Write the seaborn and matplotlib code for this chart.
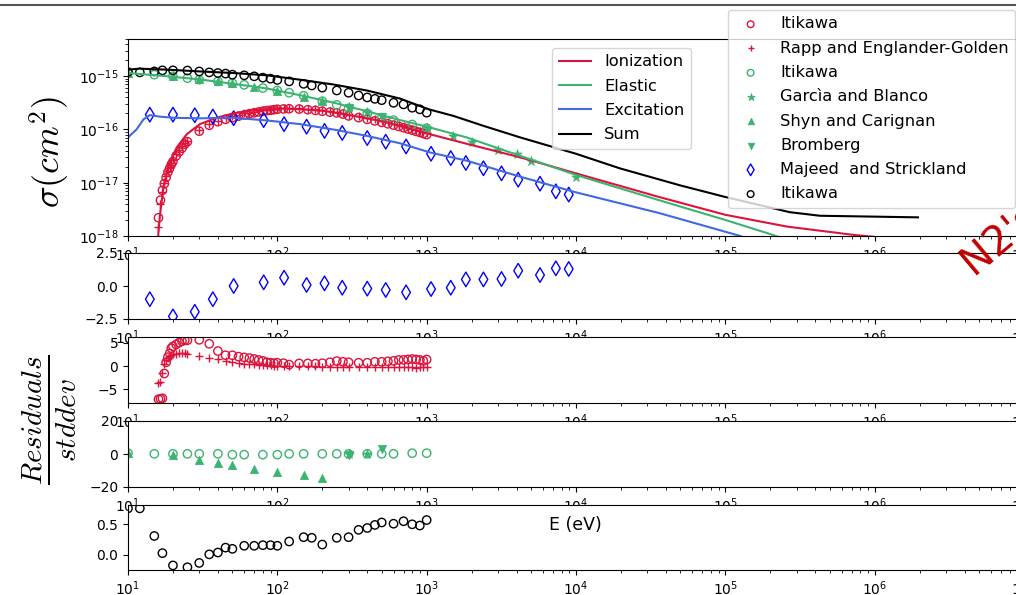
import matplotlib
matplotlib.use("Agg")
import matplotlib.pyplot as plt
from matplotlib.lines import Line2D
import seaborn as sns

# ---- model curves ----
E_ion_fit = [15.8, 15.96, 16.4, 17.3, 18.6, 21.2, 24.7, 30.3, 39.2, 50.7, 69, 99, 142, 203,
             307, 513, 1026, 1850, 4230, 1e4, 3.6e4, 1e5, 2.6e5, 7.2e5, 2e6]
sig_ion_fit = [3e-19, 1.1e-18, 2.6e-18, 8.3e-18, 1.95e-17, 4.6e-17, 8.1e-17, 1.26e-16, 1.66e-16,
               2.0e-16, 2.3e-16, 2.5e-16, 2.4e-16, 2.24e-16, 1.86e-16, 1.41e-16, 8.3e-17,
               5.4e-17, 3.0e-17, 1.5e-17, 5.4e-18, 2.5e-18, 1.5e-18, 1.05e-18, 8e-19]

E_el_fit = [10, 18.2, 30.3, 50.7, 85, 142, 237, 397, 664, 1016, 1850, 4230, 1e4, 3.6e4, 1e5,
            2.1e5, 5e5]
sig_el_fit = [1.15e-15, 1.0e-15, 8.7e-16, 7.2e-16, 5.9e-16, 4.4e-16, 3.2e-16, 2.2e-16, 1.5e-16,
              1.12e-16, 7.1e-17, 3.2e-17, 1.4e-17, 4.7e-18, 2.0e-18, 1.04e-18, 4e-19]

E_exc_fit = [10, 11.4, 12.7, 14.0, 16.4, 20.1, 30.3, 50.7, 85, 142, 237, 397, 664, 1054, 1850,
             4230, 1e4, 3.6e4, 1.26e5, 3e5]
sig_exc_fit = [7.1e-17, 1.0e-16, 1.55e-16, 1.86e-16, 1.74e-16, 1.66e-16, 1.62e-16, 1.66e-16,
               1.48e-16, 1.26e-16, 1.0e-16, 7.6e-17, 5.5e-17, 3.7e-17, 2.6e-17, 1.3e-17,
               6.6e-18, 2.7e-18, 1.0e-18, 4e-19]

E_sum_fit = [10, 12, 14, 18.2, 30.3, 50.7, 85, 142, 237, 397, 664, 1028, 1510, 2400, 4230, 1e4,
             1.97e4, 5e4, 1e5, 2.7e5, 4.3e5, 1.95e6]
sig_sum_fit = [1.33e-15, 1.39e-15, 1.36e-15, 1.33e-15, 1.23e-15, 1.15e-15, 1.04e-15, 8.6e-16,
               7.0e-16, 5.4e-16, 3.8e-16, 2.4e-16, 1.8e-16, 1.17e-16, 7.1e-17, 3.5e-17,
               1.86e-17, 8.9e-18, 5.4e-18, 2.8e-18, 2.4e-18, 2.24e-18]

# ---- measurements ----
E_ion = [16, 16.5, 17, 17.5, 18, 18.5, 19, 19.5, 20, 21, 22, 23, 24, 25,
         30, 35, 40, 45, 50, 55, 60, 65, 70, 75, 80, 85, 90, 95, 100,
         110, 120, 140, 160, 180, 200, 225, 250, 275, 300,
         350, 400, 450, 500, 550, 600, 650, 700, 750, 800, 850, 900, 950, 1000]
sig_ion_itikawa = [x * 1e-16 for x in [
    0.022, 0.047, 0.072, 0.096, 0.126, 0.158, 0.187, 0.22, 0.25, 0.32, 0.38, 0.445, 0.53, 0.59,
    0.93, 1.2, 1.4, 1.55, 1.66, 1.78, 1.88, 1.98, 2.06, 2.13, 2.2, 2.26, 2.3, 2.35, 2.4,
    2.43, 2.45, 2.42, 2.35, 2.28, 2.2, 2.12, 2.05, 1.95, 1.8,
    1.67, 1.55, 1.45, 1.36, 1.28, 1.21, 1.14, 1.08, 1.02, 0.97, 0.92, 0.88, 0.84, 0.8]]
sig_ion_rapp = [x * 1e-16 for x in [
    0.015, 0.04, 0.068, 0.1, 0.135, 0.165, 0.2, 0.235, 0.27, 0.34, 0.41, 0.48, 0.55, 0.62,
    0.97, 1.25, 1.47, 1.64, 1.78, 1.9, 2.0, 2.08, 2.15, 2.22, 2.28, 2.33, 2.37, 2.41, 2.44,
    2.48, 2.5, 2.5, 2.45, 2.38, 2.3, 2.2, 2.1, 2.0, 1.9,
    1.78, 1.66, 1.56, 1.46, 1.37, 1.29, 1.22, 1.15, 1.09, 1.03, 0.98, 0.93, 0.89, 0.85]]
res_ion_itikawa = [-7.1, -7.0, -6.9, -1.6, 0.8, 1.9, 2.7, 3.8, 4.2, 4.6, 5.0, 5.3, 5.5, 5.5,
                   5.6, 4.75, 3.2, 2.3, 2.3, 2.0, 1.85, 1.7, 1.5, 1.3, 1.1, 0.8, 0.7, 0.6, 0.7,
                   0.6, 0.3, 0.55, 0.55, 0.5, 0.6, 0.8, 1.05, 0.9, 0.8,
                   0.7, 0.7, 0.9, 0.9, 1.0, 1.1, 1.3, 1.3, 1.4, 1.5, 1.4, 1.3, 1.1, 1.4]
res_ion_rapp = [-3.6, -3.5, -1.4, 0.4, 1.2, 1.8, 2.1, 2.3, 2.5, 2.6, 2.7, 2.7, 2.7, 2.6,
                2.2, 1.8, 1.4, 1.0, 0.8, 0.6, 0.5, 0.4, 0.35, 0.3, 0.2, 0.2, 0.15, 0.1, 0.1,
                0.0, 0.0, -0.1, -0.1, -0.1, -0.2, -0.2, -0.2, -0.3, -0.2,
                -0.2, -0.3, -0.2, -0.3, -0.3, -0.3, -0.3, -0.3, -0.3, -0.3, -0.4, -0.3, -0.3, -0.3]

E_el = [10, 15, 20, 25, 30, 40, 50, 60, 80, 100, 120, 150, 200, 250, 300, 400, 500, 600, 800, 1000]
sig_el_itikawa = [1.15e-15, 1.07e-15, 1.0e-15, 9.2e-16, 8.6e-16, 8.0e-16, 7.4e-16, 6.9e-16,
                  6.0e-16, 5.4e-16, 4.9e-16, 4.3e-16, 3.4e-16, 2.9e-16, 2.5e-16, 2.0e-16,
                  1.67e-16, 1.5e-16, 1.24e-16, 1.06e-16]
res_el_itikawa = [0.5, 0.1, 0.1, 0.1, 0.1, 0.1, -0.4, -0.4, -0.4, -0.4, 0.1, 0.1, 0.1, 0.1,
                  0.1, 0.1, 0.1, 0.1, 0.5, 0.5]

E_garcia = [300, 400, 1000, 1500, 2000, 3000, 4000, 5000, 10000]
sig_garcia = [2.6e-16, 2.1e-16, 1.06e-16, 7.6e-17, 5.7e-17, 4.2e-17, 3.4e-17, 2.6e-17, 1.3e-17]
E_garcia_res = [300, 400]
res_garcia = [0.3, 0.2]

E_shyn = [10, 20, 30, 40, 50, 70, 100, 150, 200]
sig_shyn = [1.17e-15, 1.0e-15, 8.8e-16, 8.1e-16, 7.4e-16, 6.3e-16, 5.3e-16, 4.1e-16, 3.45e-16]
res_shyn = [0.6, -0.6, -3.5, -5.4, -6.5, -8.9, -10.9, -12.6, -14.3]

E_bromberg = [300, 500]
sig_bromberg = [2.55e-16, 1.7e-16]
res_bromberg = [-0.6, 3.0]

E_majeed = [14, 20, 28, 37, 51, 81, 111, 157, 207, 272, 400, 532, 728, 1070, 1450, 1830, 2400,
            3170, 4100, 5740, 7330, 8940]
sig_majeed = [1.9e-16, 1.9e-16, 1.85e-16, 1.75e-16, 1.63e-16, 1.5e-16, 1.26e-16, 1.13e-16,
              9.4e-17, 8.6e-17, 6.9e-17, 5.9e-17, 4.8e-17, 3.5e-17, 2.9e-17, 2.35e-17, 1.87e-17,
              1.5e-17, 1.14e-17, 9.6e-18, 6.9e-18, 6.0e-18]
res_majeed = [-1.0, -2.3, -1.95, -1.0, 0.0, 0.28, 0.63, 0.08, 0.2, -0.13, -0.2, -0.3, -0.48,
              -0.23, -0.13, 0.5, 0.5, 0.53, 1.16, 0.83, 1.34, 1.29]

E_tot = [10, 12, 15, 17, 20, 25, 30, 35, 40, 45, 50, 60, 70, 80, 90, 100, 120, 150, 170, 200,
         250, 300, 350, 400, 450, 500, 600, 700, 800, 900, 1000]
sig_tot = [1.20e-15, 1.18e-15, 1.23e-15, 1.29e-15, 1.29e-15, 1.28e-15, 1.23e-15, 1.18e-15,
           1.15e-15, 1.12e-15, 1.07e-15, 1.04e-15, 9.96e-16, 9.4e-16, 9.0e-16, 8.5e-16, 8.0e-16,
           7.2e-16, 6.7e-16, 6.1e-16, 5.4e-16, 4.9e-16, 4.35e-16, 4.0e-16, 3.76e-16, 3.55e-16,
           3.17e-16, 2.96e-16, 2.56e-16, 2.39e-16, 2.07e-16]
res_tot = [0.76, 0.76, 0.31, 0.03, -0.17, -0.2, -0.13, 0.01, 0.04, 0.12, 0.10, 0.15, 0.15, 0.16,
           0.16, 0.15, 0.22, 0.29, 0.28, 0.17, 0.28, 0.29, 0.41, 0.44, 0.49, 0.53, 0.51, 0.55,
           0.50, 0.48, 0.57]

RED = "crimson"
GREEN = "mediumseagreen"

W, H = 1016, 595
fig = plt.figure(figsize=(W / 100, H / 100), dpi=100)


def box(top, bottom):
    # axes box in pixels -> figure fraction; right edge runs past the figure (to 10^7)
    return [128 / W, 1 - bottom / H, 896 / W, (bottom - top) / H]


ax0 = fig.add_axes(box(39, 236))
ax1 = fig.add_axes(box(253, 319))
ax2 = fig.add_axes(box(337, 403))
ax3 = fig.add_axes(box(421, 487))
ax4 = fig.add_axes(box(505, 570))

for ax in [ax0, ax1, ax2, ax3, ax4]:
    ax.set_xscale("log")
    ax.set_xlim(10, 1e7)
ax0.set_yscale("log")


def open_pts(ax, x, y, color, label=None, marker="o", s=36):
    sns.scatterplot(x=x, y=y, ax=ax, marker=marker, s=s, facecolors="none",
                    edgecolor=color, linewidth=1, label=label)


def filled_pts(ax, x, y, marker, label=None, s=36):
    sns.scatterplot(x=x, y=y, ax=ax, marker=marker, s=s, color=GREEN,
                    edgecolor=GREEN, linewidth=0.5, label=label)


# --- main cross sections ---
sns.lineplot(x=E_ion_fit, y=sig_ion_fit, ax=ax0, color=RED, lw=1.5, label="Ionization")
sns.lineplot(x=E_el_fit, y=sig_el_fit, ax=ax0, color=GREEN, lw=1.5, label="Elastic")
sns.lineplot(x=E_exc_fit, y=sig_exc_fit, ax=ax0, color="royalblue", lw=1.5, label="Excitation")
sns.lineplot(x=E_sum_fit, y=sig_sum_fit, ax=ax0, color="black", lw=1.5, label="Sum")

open_pts(ax0, E_ion, sig_ion_itikawa, RED, "Itikawa")
sns.scatterplot(x=E_ion, y=sig_ion_rapp, ax=ax0, marker="+", s=30, color=RED, linewidth=1,
                label="Rapp and Englander-Golden")
open_pts(ax0, E_el, sig_el_itikawa, GREEN, "Itikawa")
filled_pts(ax0, E_garcia, sig_garcia, "*", "Garcìa and Blanco", s=50)
filled_pts(ax0, E_shyn, sig_shyn, "^", "Shyn and Carignan")
filled_pts(ax0, E_bromberg, sig_bromberg, "v", "Bromberg")
open_pts(ax0, E_majeed, sig_majeed, "blue", "Majeed  and Strickland", marker="d", s=55)
open_pts(ax0, E_tot, sig_tot, "black", "Itikawa")

ax0.set_ylim(1e-18, 5e-15)

handles, labels = ax0.get_legend_handles_labels()
leg1 = ax0.legend(handles[:4], labels[:4], loc="upper left", fontsize=11.7, borderaxespad=0,
                  labelspacing=0.57,
                  bbox_to_anchor=(552 / W, 1 - 48 / H), bbox_transform=fig.transFigure)
ax0.add_artist(leg1)
ax0.legend(handles[4:], labels[4:], loc="upper right", fontsize=11.7, borderaxespad=0,
           labelspacing=0.57, markerscale=0.8,
           bbox_to_anchor=(1015 / W, 1 - 10 / H), bbox_transform=fig.transFigure)

# --- residual panels ---
open_pts(ax1, E_majeed, res_majeed, "blue", marker="d", s=55)
ax1.set_ylim(-2.5, 2.5)
ax1.set_yticks([-2.5, 0.0, 2.5])

open_pts(ax2, E_ion, res_ion_itikawa, RED)
sns.scatterplot(x=E_ion, y=res_ion_rapp, ax=ax2, marker="+", s=30, color=RED, linewidth=1)
ax2.set_ylim(-7.9, 6.2)
ax2.set_yticks([-5, 0, 5])

open_pts(ax3, E_el, res_el_itikawa, GREEN)
filled_pts(ax3, E_garcia_res, res_garcia, "*", s=50)
filled_pts(ax3, E_shyn, res_shyn, "^")
filled_pts(ax3, E_bromberg, res_bromberg, "v")
ax3.set_ylim(-20, 20)
ax3.set_yticks([-20, 0, 20])

open_pts(ax4, E_tot, res_tot, "black")
ax4.set_ylim(-0.245, 0.815)
ax4.set_yticks([0.0, 0.5])

for ax in [ax1, ax2, ax3, ax4]:
    if ax.get_legend() is not None:
        ax.get_legend().remove()

# --- figure texts ---
fig.text(50 / W, 1 - 152 / H, r"$\sigma(cm^2)$", rotation=90, fontsize=26,
         ha="center", va="center", math_fontfamily="cm")
fig.text(49 / W, 1 - 420 / H, r"$\frac{Residuals}{stddev}$", rotation=90, fontsize=30,
         ha="center", va="center", math_fontfamily="cm")
fig.text(575 / W, 1 - 525 / H, "E (eV)", ha="center", va="center", fontsize=12.5)
fig.text(974 / W, 1 - 276 / H, "N2's", rotation=40, rotation_mode="anchor", color="#c00000",
         fontsize=29, ha="left", va="baseline")
fig.add_artist(Line2D([0, 1], [1 - 5 / H, 1 - 5 / H], transform=fig.transFigure,
                      color="#555555", lw=1.5))

fig.savefig("out.png", dpi=100)
